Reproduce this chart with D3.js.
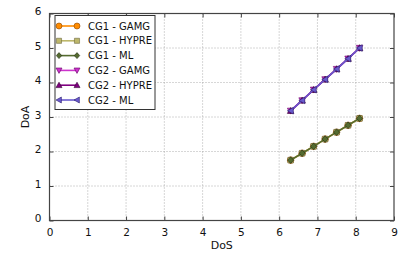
<!DOCTYPE html>
<html>
<head>
<meta charset="utf-8">
<script src="https://cdn.jsdelivr.net/npm/d3@7"></script>
<style>
  body { margin: 0; background: #fff; }
  text { font-family: "DejaVu Sans", sans-serif; }
</style>
</head>
<body>
<div id="chart"></div>
<script>
// data
var dos = [6.3, 6.6, 6.9, 7.2, 7.5, 7.8, 8.1];
var doaCG1 = [1.75, 1.95, 2.15, 2.36, 2.56, 2.76, 2.96];
var doaCG2 = [3.18, 3.48, 3.79, 4.09, 4.39, 4.69, 5.0];
var seriesNames = ["CG1 - GAMG", "CG1 - HYPRE", "CG1 - ML", "CG2 - GAMG", "CG2 - HYPRE", "CG2 - ML"];
var xTicks = [0, 1, 2, 3, 4, 5, 6, 7, 8, 9];
var yTicks = [0, 1, 2, 3, 4, 5, 6];

var svgWidth = 415, svgHeight = 260;
var margin = { top: 13.5, right: 21, bottom: 39.5, left: 49.5 };
var width = svgWidth - margin.left - margin.right;
var height = svgHeight - margin.top - margin.bottom;

var series = [
  { name: seriesNames[0], y: doaCG1, color: "#ff8c00", edge: "#8b4500", marker: "circle" },
  { name: seriesNames[1], y: doaCG1, color: "#bdb76b", edge: "#6b6840", marker: "square" },
  { name: seriesNames[2], y: doaCG1, color: "#556b2f", edge: "#1e2a10", marker: "diamond" },
  { name: seriesNames[3], y: doaCG2, color: "#cc33cc", edge: "#660066", marker: "tridown" },
  { name: seriesNames[4], y: doaCG2, color: "#800080", edge: "#300030", marker: "triup" },
  { name: seriesNames[5], y: doaCG2, color: "#6a5acd", edge: "#2a1f6e", marker: "trileft" }
];

var svg = d3.select("#chart").append("svg")
  .attr("width", svgWidth)
  .attr("height", svgHeight);

var g = svg.append("g")
  .attr("transform", `translate(${margin.left}, ${margin.top})`);

var x = d3.scaleLinear().domain([0, 9]).range([0, width]);
var y = d3.scaleLinear().domain([0, 6]).range([height, 0]);

// grid
g.selectAll(".gx").data(xTicks.slice(1, -1)).enter().append("line")
  .attr("x1", d => x(d)).attr("x2", d => x(d))
  .attr("y1", 0).attr("y2", height)
  .attr("stroke", "#999").attr("stroke-width", 0.8).attr("stroke-dasharray", "1,2");
g.selectAll(".gy").data(yTicks.slice(1, -1)).enter().append("line")
  .attr("x1", 0).attr("x2", width)
  .attr("y1", d => y(d)).attr("y2", d => y(d))
  .attr("stroke", "#999").attr("stroke-width", 0.8).attr("stroke-dasharray", "1,2");

// axes with inward ticks
var fmt = d3.format("d");
var axB = g.append("g").attr("transform", `translate(0,${height})`)
  .call(d3.axisBottom(x).tickValues(xTicks).tickFormat(fmt).tickSizeInner(-4).tickSizeOuter(0).tickPadding(8));
var axL = g.append("g")
  .call(d3.axisLeft(y).tickValues(yTicks).tickFormat(fmt).tickSizeInner(-4).tickSizeOuter(0).tickPadding(8));
var axT = g.append("g")
  .call(d3.axisTop(x).tickValues(xTicks).tickSizeInner(-4).tickSizeOuter(0).tickFormat(""));
var axR = g.append("g").attr("transform", `translate(${width},0)`)
  .call(d3.axisRight(y).tickValues(yTicks).tickSizeInner(-4).tickSizeOuter(0).tickFormat(""));
[axB, axL, axT, axR].forEach(function(a) {
  a.select(".domain").remove();
  a.selectAll("line").attr("stroke", "#444");
  a.selectAll("text").attr("font-size", 10.5).attr("fill", "#111")
    .style("font-family", "'DejaVu Sans', sans-serif");
});
axL.selectAll("text").attr("dy", "0.1em");

// frame
g.append("rect").attr("width", width).attr("height", height)
  .attr("fill", "none").attr("stroke", "#444").attr("stroke-width", 1.2);

function markerPath(type, r) {
  if (type === "circle") return `M${r},0A${r},${r} 0 1,1 ${-r},0A${r},${r} 0 1,1 ${r},0Z`;
  if (type === "square") { var q = r * 0.85; return `M${-q},${-q}H${q}V${q}H${-q}Z`; }
  if (type === "diamond") return `M0,${-r}L${r * 0.9},0L0,${r}L${-r * 0.9},0Z`;
  if (type === "triup") return `M0,${-r}L${r},${r * 0.8}L${-r},${r * 0.8}Z`;
  if (type === "tridown") return `M0,${r}L${r},${-r * 0.8}L${-r},${-r * 0.8}Z`;
  return `M${-r},0L${r * 0.8},${-r}L${r * 0.8},${r}Z`;
}

var line = d3.line().x(d => x(d[0])).y(d => y(d[1]));

series.forEach(function(s) {
  var pts = dos.map((v, i) => [v, s.y[i]]);
  g.append("path").datum(pts)
    .attr("d", line).attr("fill", "none")
    .attr("stroke", s.color).attr("stroke-width", 1.6);
  g.selectAll(null).data(pts).enter().append("path")
    .attr("transform", d => `translate(${x(d[0])},${y(d[1])})`)
    .attr("d", markerPath(s.marker, 3.3))
    .attr("fill", s.color).attr("stroke", s.edge).attr("stroke-width", 0.6);
});

// legend
var legend = g.append("g").attr("transform", "translate(5.5, 2)");
legend.append("rect").attr("width", 100).attr("height", 94)
  .attr("fill", "#fff").attr("stroke", "#333").attr("stroke-width", 1);
series.forEach(function(s, i) {
  var ly = 10.5 + i * 14.8;
  legend.append("line").attr("x1", 4).attr("x2", 22).attr("y1", ly).attr("y2", ly)
    .attr("stroke", s.color).attr("stroke-width", 1.6);
  [4, 22].forEach(function(mx) {
    legend.append("path").attr("transform", `translate(${mx},${ly})`)
      .attr("d", markerPath(s.marker, 3))
      .attr("fill", s.color).attr("stroke", s.edge).attr("stroke-width", 0.6);
  });
  legend.append("text").attr("x", 33).attr("y", ly).attr("dy", "0.35em")
    .attr("font-size", 10).attr("fill", "#111").text(s.name);
});

// axis labels
g.append("text")
  .attr("x", width / 2).attr("y", height + 28)
  .attr("text-anchor", "middle").attr("font-size", 11).attr("fill", "#111")
  .text("DoS");
g.append("text")
  .attr("transform", `translate(-21, ${height / 2}) rotate(-90)`)
  .attr("text-anchor", "middle").attr("font-size", 11).attr("fill", "#111")
  .text("DoA");
</script>
</body>
</html>
